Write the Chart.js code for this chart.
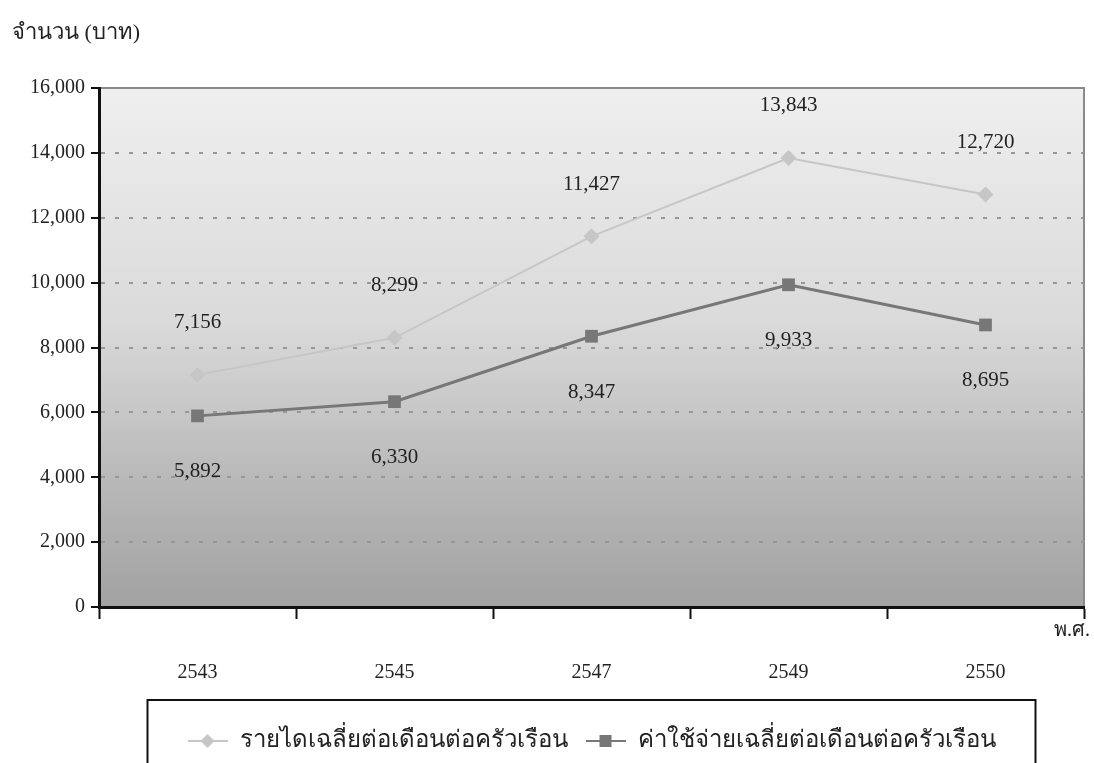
<!DOCTYPE html>
<html>
<head>
<meta charset="utf-8">
<script src="https://cdn.jsdelivr.net/npm/chart.js@4.4.0/dist/chart.umd.min.js"></script>
<style>
  html, body { margin: 0; padding: 0; background: #ffffff; }
  #wrap { width: 1094px; height: 763px; }
</style>
</head>
<body>
<div id="wrap"><canvas id="myChart"></canvas></div>
<script>
	// ข้อมูล
	var years = ['2543', '2545', '2547', '2549', '2550']
	var income = [7156, 8299, 11427, 13843, 12720]
	var expense = [5892, 6330, 8347, 9933, 8695]
	var yTicks = [0, 2000, 4000, 6000, 8000, 10000, 12000, 14000, 16000]

	var label_income = 'รายไดเฉลี่ยต่อเดือนต่อครัวเรือน'
	var label_expense = 'ค่าใช้จ่ายเฉลี่ยต่อเดือนต่อครัวเรือน'
	var title_y = 'จำนวน (บาท)'
	var title_x = 'พ.ศ.'

	var serif = "'Liberation Serif', 'Times New Roman', serif"
	var color_income = '#c6c6c6'
	var color_expense = '#777777'

	function fmt(v) {
	  return v.toLocaleString('en-US')
	}

	// kleine Canvas-Symbole für die Legende
	function makeLegendIcon(color, shape) {
	  var c = document.createElement('canvas')
	  c.width = 40
	  c.height = 20
	  var g = c.getContext('2d')
	  g.strokeStyle = color
	  g.lineWidth = 2
	  g.beginPath()
	  g.moveTo(0, 10)
	  g.lineTo(40, 10)
	  g.stroke()
	  g.fillStyle = color
	  g.beginPath()
	  if (shape == 'diamond') {
	    g.moveTo(20, 3); g.lineTo(27, 10); g.lineTo(20, 17); g.lineTo(13, 10)
	  } else {
	    g.rect(14, 4, 12, 12)
	  }
	  g.closePath()
	  g.fill()
	  return c
	}
	var icon_income = makeLegendIcon(color_income, 'diamond')
	var icon_expense = makeLegendIcon(color_expense, 'square')

	var bgPlugin = {
	  id: 'bg',
	  beforeDraw: function(chart) {
	    var a = chart.chartArea
	    var ctx = chart.ctx
	    var grad = ctx.createLinearGradient(0, a.top, 0, a.bottom)
	    grad.addColorStop(0, '#efefef')
	    grad.addColorStop(0.45, '#dadada')
	    grad.addColorStop(0.75, '#b9b9b9')
	    grad.addColorStop(1, '#a2a2a2')
	    ctx.save()
	    ctx.fillStyle = grad
	    ctx.fillRect(a.left, a.top, a.right - a.left, a.bottom - a.top)
	    ctx.strokeStyle = '#8a8a8a'
	    ctx.lineWidth = 2
	    ctx.beginPath()
	    ctx.moveTo(a.left, a.top)
	    ctx.lineTo(a.right, a.top)
	    ctx.lineTo(a.right, a.bottom)
	    ctx.stroke()
	    ctx.restore()
	  },
	  afterDraw: function(chart) {
	    var ctx = chart.ctx
	    var a = chart.chartArea
	    ctx.save()
	    ctx.fillStyle = '#222'
	    ctx.font = '22px ' + serif
	    ctx.textBaseline = 'middle'
	    ctx.textAlign = 'left'
	    ctx.fillText(title_y, 12, 33)
	    ctx.textAlign = 'right'
	    ctx.font = '20px ' + serif
	    ctx.fillText(title_x, a.right + 6, a.bottom + 24)

	    // Datenbeschriftungen
	    ctx.font = '21px ' + serif
	    ctx.textAlign = 'center'
	    var m0 = chart.getDatasetMeta(0)
	    var m1 = chart.getDatasetMeta(1)
	    for (var i = 0; i < years.length; i++) {
	      ctx.fillText(fmt(income[i]), m0.data[i].x, m0.data[i].y - 52)
	      ctx.fillText(fmt(expense[i]), m1.data[i].x, m1.data[i].y + 56)
	    }

	    // Rahmen um die Legende
	    var lg = chart.legend
	    if (lg && lg.legendHitBoxes && lg.legendHitBoxes.length) {
	      var hb = lg.legendHitBoxes
	      var l = hb[0].left - 40
	      var r = hb[hb.length - 1].left + hb[hb.length - 1].width + 40
	      ctx.strokeStyle = '#111'
	      ctx.lineWidth = 2
	      ctx.strokeRect(l, 700, r - l, 90)
	    }
	    ctx.restore()
	  }
	}

	var ctx = document.getElementById('myChart').getContext('2d')
	var chart = new Chart(ctx, {
	  type: 'line',
	  data: {
	    labels: years,
	    datasets: [
	      {
	        label: label_income,
	        data: income,
	        borderColor: color_income,
	        backgroundColor: color_income,
	        borderWidth: 2,
	        pointStyle: 'rectRot',
	        pointRadius: 8,
	        pointBorderWidth: 0,
	        fill: false
	      },
	      {
	        label: label_expense,
	        data: expense,
	        borderColor: color_expense,
	        backgroundColor: color_expense,
	        borderWidth: 3,
	        pointStyle: 'rect',
	        pointRadius: 9,
	        pointBorderWidth: 0,
	        fill: false
	      }
	    ]
	  },
	  options: {
	    responsive: true,
	    maintainAspectRatio: false,
	    animation: false,
	    layout: { padding: { left: 12, right: 10, top: 88, bottom: 0 } },
	    plugins: {
	      tooltip: { enabled: false },
	      title: { display: false },
	      legend: {
	        position: 'bottom',
	        fullSize: false,
	        maxHeight: 60,
	        labels: {
	          usePointStyle: true,
	          pointStyleWidth: 40,
	          padding: 18,
	          color: '#222',
	          font: { family: serif, size: 24 },
	          generateLabels: function(chart) {
	            return [
	              { text: label_income, pointStyle: icon_income, datasetIndex: 0, fontColor: '#222', lineWidth: 0, strokeStyle: 'transparent', fillStyle: 'transparent' },
	              { text: label_expense, pointStyle: icon_expense, datasetIndex: 1, fontColor: '#222', lineWidth: 0, strokeStyle: 'transparent', fillStyle: 'transparent' }
	            ]
	          }
	        }
	      }
	    },
	    scales: {
	      x: {
	        type: 'category',
	        offset: true,
	        grid: {
	          offset: true,
	          drawOnChartArea: false,
	          drawTicks: true,
	          tickLength: 12,
	          tickColor: '#111',
	          tickWidth: 2
	        },
	        border: { display: true, color: '#111', width: 3 },
	        ticks: {
	          padding: 42,
	          color: '#222',
	          font: { family: serif, size: 20 }
	        },
	        afterFit: function(scale) { scale.height = 104 }
	      },
	      y: {
	        min: 0,
	        max: 16000,
	        afterBuildTicks: function(scale) {
	          scale.ticks = yTicks.map(function(v) { return { value: v } })
	        },
	        grid: {
	          color: function(c) {
	            if (c.tick && (c.tick.value == 0 || c.tick.value == 16000)) return 'transparent'
	            return '#979797'
	          },
	          lineWidth: 2,
	          tickLength: 8,
	          tickColor: '#111',
	          tickWidth: 2
	        },
	        border: { display: true, color: '#111', width: 3, dash: [4, 10] },
	        ticks: {
	          padding: 6,
	          color: '#222',
	          font: { family: serif, size: 20 },
	          callback: function(value) { return fmt(value) }
	        },
	        afterFit: function(scale) { scale.width = 87 }
	      }
	    }
	  },
	  plugins: [bgPlugin]
	})
</script>
</body>
</html>
